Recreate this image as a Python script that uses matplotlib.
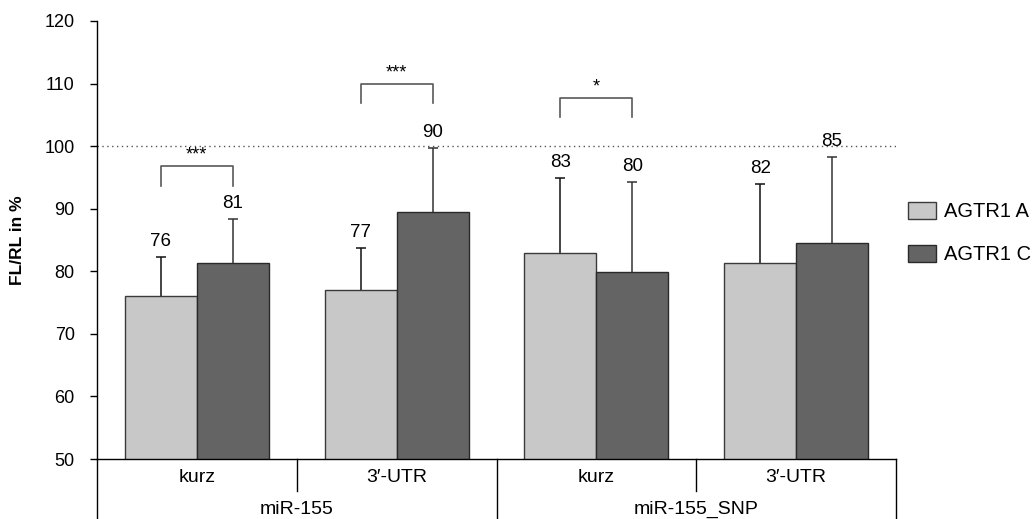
import matplotlib
matplotlib.use("Agg")
import matplotlib.pyplot as plt
import matplotlib.transforms as mtransforms
import numpy as np

plt.rcParams['font.family'] = ['Liberation Sans', 'DejaVu Sans']

# ---- data ----
categories = ["kurz", "3\u2032-UTR", "kurz", "3\u2032-UTR"]
groups = ["miR-155", "miR-155_SNP"]
series_names = ["AGTR1 A", "AGTR1 C"]
mean_a = [76.0, 77.0, 83.0, 81.4]
mean_c = [81.4, 89.5, 79.9, 84.6]
err_a = [6.3, 6.8, 11.9, 12.5]
err_c = [6.9, 10.2, 14.4, 13.7]
label_a = ["76", "77", "83", "82"]
label_c = ["81", "90", "80", "85"]
sig_index = [0, 1, 2]
sig_top = [96.8, 110.0, 107.7]
sig_text = ["***", "***", "*"]
reference_line = 100
yticks = [50, 60, 70, 80, 90, 100, 110, 120]

col_a = "#c8c8c8"
col_c = "#646464"

fig = plt.figure(figsize=(10.35, 5.19), dpi=100)
ax = fig.add_axes([97/1035, 60/519, 799/1035, 438/519])

x = np.arange(len(categories))
w = 0.36
ax.bar(x - w/2, mean_a, width=w, color=col_a, edgecolor="#3a3a3a", linewidth=1.0,
       label=series_names[0], zorder=2)
ax.bar(x + w/2, mean_c, width=w, color=col_c, edgecolor="#2a2a2a", linewidth=1.0,
       label=series_names[1], zorder=2)

for xs, ms, es, ec in [(x - w/2, mean_a, err_a, "#111111"), (x + w/2, mean_c, err_c, "#333333")]:
    eb = ax.errorbar(xs, ms, yerr=[np.zeros(len(es)), es], fmt='none',
                     ecolor=ec, elinewidth=1.1, capsize=3.5, capthick=1.1, zorder=1)
    caps = eb[1]
    if len(caps) == 2:
        caps[0].set_visible(False)

for xi, m, e, t in zip(x - w/2, mean_a, err_a, label_a):
    ax.annotate(t, xy=(xi, m + e), xytext=(0, 5), textcoords='offset points',
                ha='center', va='bottom', fontsize=13.5)
for xi, m, e, t in zip(x + w/2, mean_c, err_c, label_c):
    ax.annotate(t, xy=(xi, m + e), xytext=(0, 5), textcoords='offset points',
                ha='center', va='bottom', fontsize=13.5)

ax.axhline(reference_line, color="#555555", linestyle=(0, (1, 2.5)), linewidth=1.0, zorder=0)

# significance brackets
for i, top, t in zip(sig_index, sig_top, sig_text):
    x0, x1 = i - w/2, i + w/2
    ax.plot([x0, x0, x1, x1], [top - 3.1, top, top, top - 3.1], color="#595959",
            linewidth=1.2, zorder=3)
    ax.text((x0 + x1) / 2, top + 0.4, t, ha='center', va='bottom', fontsize=13)

ax.set_ylim(50, 120)
ax.set_xlim(-0.5, 3.5)
ax.set_yticks(yticks)
ax.tick_params(axis='y', direction='out', length=5, width=1, labelsize=13, pad=11)
ax.set_xticks([])
ax.set_ylabel("FL/RL in %", fontsize=12.5, fontweight='bold', labelpad=14)

for s in ['top', 'right']:
    ax.spines[s].set_visible(False)
ax.spines['left'].set_linewidth(1.0)
ax.spines['bottom'].set_linewidth(1.0)

# hierarchical x axis
trans = mtransforms.blended_transform_factory(ax.transData, ax.transAxes)
long_y = -60/438
short_y = -32/438
for xd in [-0.5, 1.5, 3.5]:
    ax.plot([xd, xd], [0, long_y], transform=trans, color="black", linewidth=1.0, clip_on=False)
for xd in [0.5, 2.5]:
    ax.plot([xd, xd], [0, short_y], transform=trans, color="black", linewidth=1.0, clip_on=False)
for xi, c in zip(x, categories):
    ax.text(xi, -19/438, c, transform=trans, ha='center', va='center', fontsize=14)
for gi, g in enumerate(groups):
    ax.text(2 * gi + 0.5, -50/438, g, transform=trans, ha='center', va='center', fontsize=14)

fig.legend(loc='center left', bbox_to_anchor=(908/1035, 1 - 233/519), frameon=False,
           fontsize=14.5, handlelength=1.4, handleheight=0.95, handletextpad=0.4,
           labelspacing=1.15, borderpad=0, borderaxespad=0)

fig.savefig("out.png", dpi=100)
